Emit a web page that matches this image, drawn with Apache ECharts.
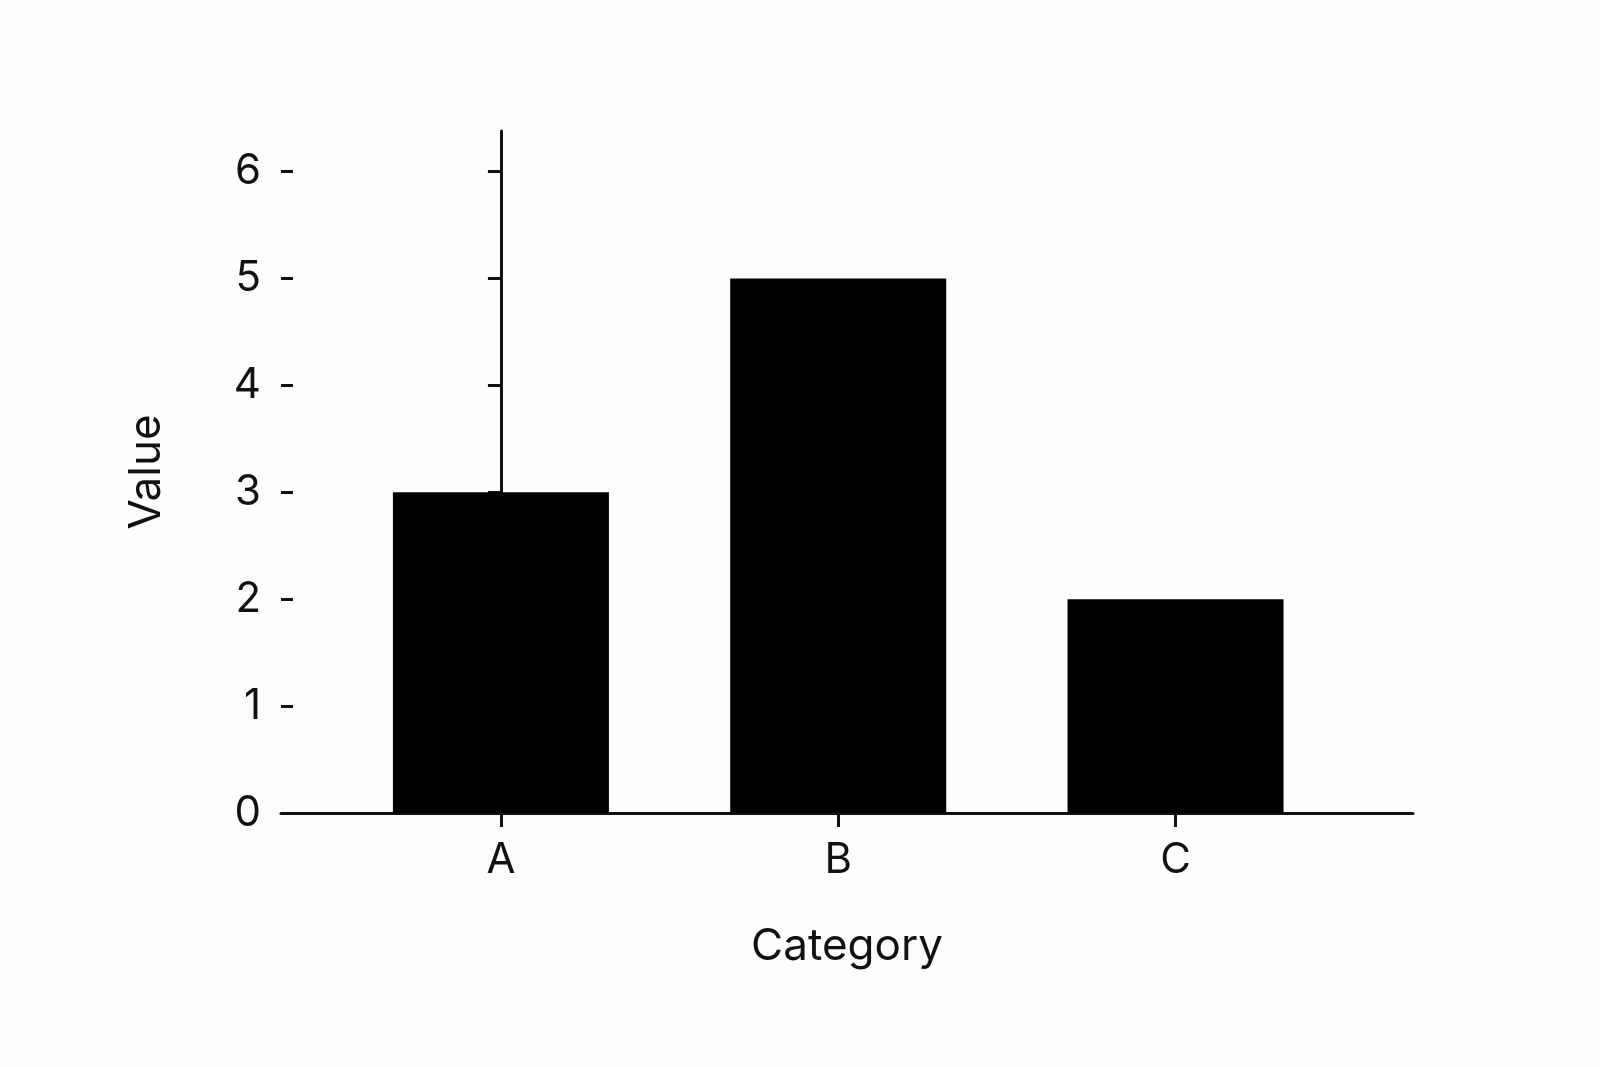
<!DOCTYPE html>
<html><head><meta charset="utf-8">
<script src="https://cdn.jsdelivr.net/npm/echarts@6/dist/echarts.min.js"></script>
<style>html,body{margin:0;background:#fdfdfd}#c{width:1600px;height:1067px}</style>
</head><body><div id="c"></div>
<script>
const categories = ['A','B','C'];
const values = [3,5,2];
const yTicks = [0,1,2,3,4,5,6];
const font = 'Inter, "DejaVu Sans", sans-serif';
const chart = echarts.init(document.getElementById('c'));
const yCommon = {type:'value', min:0, max:6.38, interval:1, splitLine:{show:false}};
chart.setOption({
  backgroundColor:'#fdfdfd',
  grid:{left:281,right:187,top:131,bottom:254},
  xAxis:{type:'value', min:-0.652, max:2.704, splitLine:{show:false},
    name:'Category', nameLocation:'middle', nameGap:112,
    nameTextStyle:{fontSize:44,color:'#111',fontFamily:font},
    axisLine:{show:true,onZero:false,lineStyle:{color:'#111',width:3}},
    axisTick:{show:true,length:14,lineStyle:{color:'#111',width:3},customValues:[0,1,2]},
    axisLabel:{fontSize:42,color:'#111',fontFamily:font,margin:26,customValues:[0,1,2],
      formatter:v=>categories[Math.round(v)]}},
  yAxis:[Object.assign({},yCommon,{
    name:'Value', nameLocation:'middle', nameGap:112, nameRotate:90,
    nameTextStyle:{fontSize:44,color:'#111',fontFamily:font},
    axisLine:{show:true,lineStyle:{color:'#111',width:3}},
    axisTick:{show:true,length:13,lineStyle:{color:'#111',width:3},customValues:yTicks},
    axisLabel:{fontSize:42,color:'#111',fontFamily:font,margin:20,customValues:yTicks}}),
   Object.assign({},yCommon,{position:'left',
    axisLine:{show:false},
    axisTick:{show:true,inside:true,length:12,lineStyle:{color:'#111',width:3},customValues:yTicks},
    axisLabel:{show:false}})],
  series:[{type:'bar', barWidth:216, itemStyle:{color:'#000'},
    data:categories.map((c,i)=>[i,values[i]])}]
});
</script></body></html>
